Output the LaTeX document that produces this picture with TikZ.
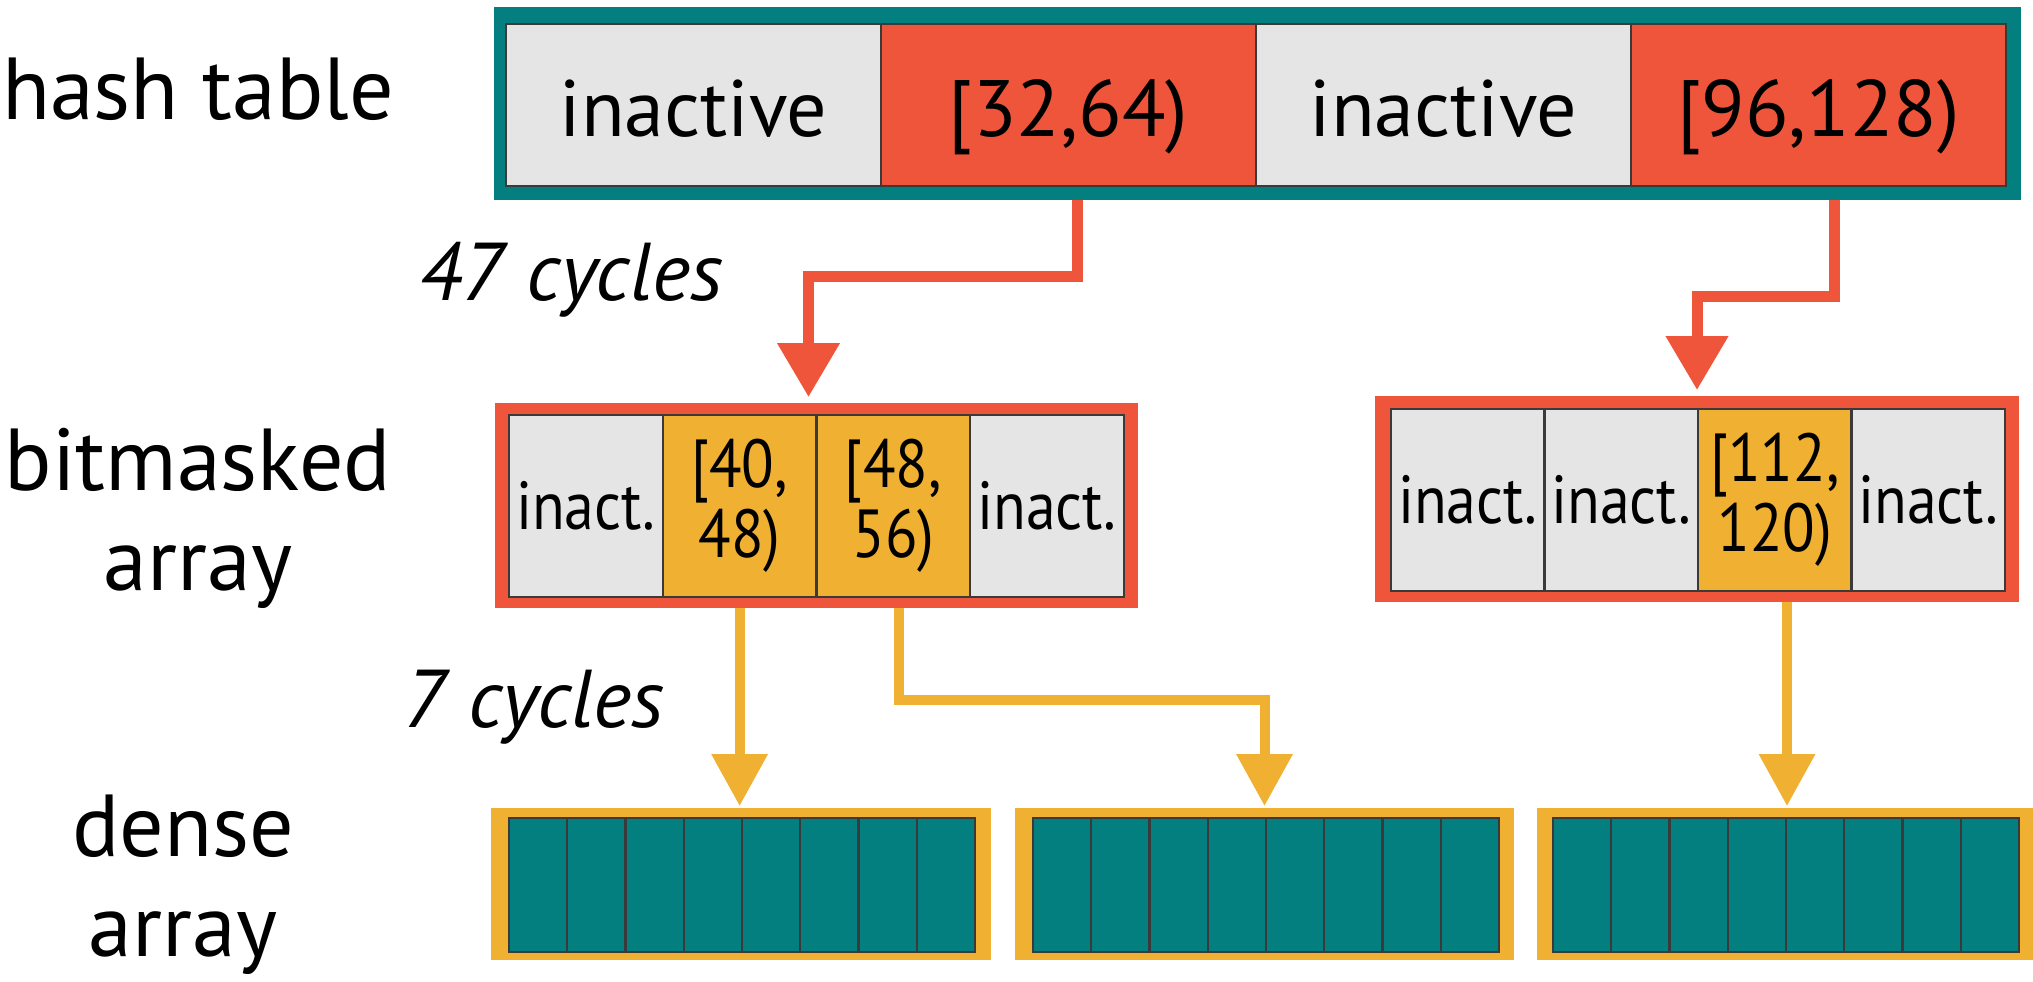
\documentclass[tikz,border=0pt]{standalone}
\usepackage{fontspec}
\setmainfont{PT Sans}
\newfontfamily\narrowfont[FakeStretch=0.88]{PT Sans}
\usetikzlibrary{arrows.meta}

\definecolor{hteal}{HTML}{047F80}
\definecolor{hred}{HTML}{EE553A}
\definecolor{hyellow}{HTML}{F0B032}
\definecolor{hgray}{HTML}{E5E5E5}
\definecolor{hline}{HTML}{3A3A3A}

\begin{document}
\begin{tikzpicture}[x=0.5pt,y=0.5pt,yscale=-1,
  frame/.style={inner sep=0pt, outer sep=0pt},
  cell/.style={draw=hline, line width=1.2pt, inner sep=0pt, outer sep=0pt, align=center},
  hcell/.style={cell, minimum width=187.5pt, minimum height=81pt, font=\fontsize{40}{40}\selectfont, text height=31pt, text depth=0pt},
  bcell/.style={cell, minimum height=91pt, font=\narrowfont\fontsize{34}{35}\selectfont},
  dcell/.style={cell, fill=hteal, minimum width=29.125pt, minimum height=67pt},
  label/.style={font=\fontsize{44}{50}\selectfont, align=center, anchor=base},
  cyc/.style={font=\fontsize{41}{41}\selectfont\itshape, anchor=base},
  redarrow/.style={draw=hred, line width=5.5pt, -{Triangle[width=30pt,length=27pt]}},
  yelarrow/.style={draw=hyellow, line width=5pt, -{Triangle[width=27pt,length=26pt]}}
]
\useasboundingbox (0,0) rectangle (2033,981);

\node[label] (lhash) at (198,119) {hash table};
\node[label] (lbm) at (198,590) {bitmasked\\array};
\node[label] (ldense) at (183,956) {dense\\array};

\node[cyc] (c47) at (571,300) {47 cycles};
\node[cyc] (c7) at (534,727) {7 cycles};

\node[frame, fill=hteal, minimum width=763.5pt, minimum height=96.5pt] (hash) at (1257.5,103.5) {};
\node[hcell, fill=hgray] (h1) at (693.5,105) {inactive};
\node[hcell, fill=hred] (h2) at (1068.5,105) {[32,64)};
\node[hcell, fill=hgray] (h3) at (1443.5,105) {inactive};
\node[hcell, fill=hred] (h4) at (1818.5,105) {[96,128)};

\node[frame, fill=hred, minimum width=321.5pt, minimum height=102.5pt] (bm1) at (816.5,505.5) {};
\node[bcell, fill=hgray, minimum width=76.875pt] (a1) at (585.9,506) {inact.};
\node[bcell, fill=hyellow, minimum width=76.875pt] (a2) at (739.6,506) {[40,\\48)};
\node[bcell, fill=hyellow, minimum width=76.875pt] (a3) at (893.4,506) {[48,\\56)};
\node[bcell, fill=hgray, minimum width=76.875pt] (a4) at (1047.1,506) {inact.};

\node[frame, fill=hred, minimum width=322pt, minimum height=103pt] (bm2) at (1697,499) {};
\node[bcell, fill=hgray, minimum width=76.75pt] (b1) at (1467.75,500) {inact.};
\node[bcell, fill=hgray, minimum width=76.75pt] (b2) at (1621.25,500) {inact.};
\node[bcell, fill=hyellow, minimum width=76.75pt] (b3) at (1774.75,500) {[112,\\120)};
\node[bcell, fill=hgray, minimum width=76.75pt] (b4) at (1928.25,500) {inact.};

\node[frame, fill=hyellow, minimum width=250pt, minimum height=76pt] (d1) at (741,884) {};
\node[frame, fill=hyellow, minimum width=249.5pt, minimum height=76pt] (d2) at (1264.5,884) {};
\node[frame, fill=hyellow, minimum width=250pt, minimum height=76pt] (d3) at (1787,884) {};
\foreach \d/\x in {1/509, 2/1033, 3/1553}
  \foreach \i in {0,...,7}
    \node[dcell] (d\d-\i) at ({\x+29.125+58.25*\i},885) {};

\draw[redarrow, shorten >=3pt] ([xshift=4.5pt]h2.south |- hash.south) -- ++(0,76) -| ([xshift=-4pt]bm1.north);
\draw[redarrow, shorten >=3pt] ([xshift=8pt]h4.south |- hash.south) -- ++(0,96) -| (bm2.north);

\draw[yelarrow, shorten >=1pt] (a2.south |- bm1.south) -- (a2.south |- d1.north);
\draw[yelarrow, shorten >=1pt] ([xshift=3pt]a3.south |- bm1.south) -- ++(0,92) -| (d2.north);
\draw[yelarrow, shorten >=1pt] (d3.north |- bm2.south) -- (d3.north);

\end{tikzpicture}
\end{document}
